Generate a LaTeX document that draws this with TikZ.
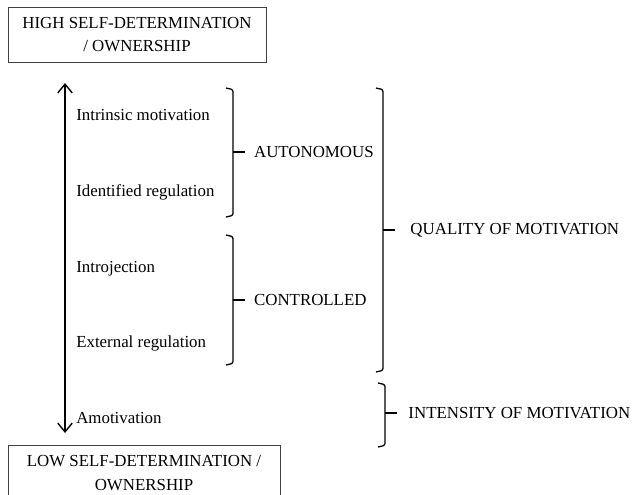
\documentclass[tikz,border=0pt]{standalone}
\usepackage{fontspec}
\setmainfont{Liberation Serif}
\usepackage{tikz}
\usetikzlibrary{arrows.meta,positioning}
\newcommand{\txtfont}{\fontsize{12}{17}\selectfont}
% bracket: tip name, x, top, bottom, middle
\newcommand{\grpbrace}[5]{%
    \draw[bracket] (#2-0.175,#3) -- (#2,#3-0.04) -- (#2,#4+0.04) -- (#2-0.175,#4);
    \draw[bracket] (#2,#5) -- ++(0.3,0) coordinate (#1);
}

\begin{document}
\begin{tikzpicture}[
    levelbox/.style={draw=black!75, line width=0.7pt, align=center, font=\txtfont,
        minimum width=#1, minimum height=1.375cm, inner sep=0pt},
    item/.style={anchor=base west, inner sep=0pt, font=\txtfont},
    grp/.style={anchor=west, inner sep=0pt, font=\txtfont},
    bracket/.style={line width=0.9pt, rounded corners=1.5pt},
    ]
    \useasboundingbox (0,0) rectangle (15.9,-12.35);

    % Boxes
    \node[levelbox=6.45cm] (high) at (3.425,-0.8625) {HIGH SELF-DETERMINATION\\/ OWNERSHIP};
    \node[levelbox=6.8cm, anchor=north] (low) at (3.6,-11.125) {LOW SELF-DETERMINATION /\\OWNERSHIP};

    % Axis
    \coordinate (atop) at (1.625,-2.075);
    \coordinate (abot) at (1.625,-10.825);
    \draw[{Straight Barb[length=2.2mm,width=3.6mm]}-{Straight Barb[length=2.2mm,width=3.6mm]}, line width=1pt] (atop) -- (abot);

    % Types of motivation
    \node[item] (intr) at (1.9,-3.0) {Intrinsic motivation};
    \node[item] (iden) at (1.9,-4.9) {Identified regulation};
    \node[item] (intro) at (1.9,-6.8) {Introjection};
    \node[item] (extr) at (1.9,-8.675) {External regulation};
    \node[item] (amot) at (1.9,-10.575) {Amotivation};

    % Brackets
    \grpbrace{autTip}{5.825}{-2.2}{-5.425}{-3.8}
    \grpbrace{conTip}{5.825}{-5.875}{-9.125}{-7.5}
    \grpbrace{qualTip}{9.575}{-2.2}{-9.3}{-5.75}
    \grpbrace{intTip}{9.625}{-9.575}{-11.175}{-10.325}

    \node[grp, right=0.22cm of autTip] (aut) {AUTONOMOUS};
    \node[grp, right=0.22cm of conTip] (con) {CONTROLLED};
    \node[grp, right=0.38cm of qualTip] (qual) {QUALITY OF MOTIVATION};
    \node[grp, right=0.28cm of intTip] (int) {INTENSITY OF MOTIVATION};
\end{tikzpicture}
\end{document}
